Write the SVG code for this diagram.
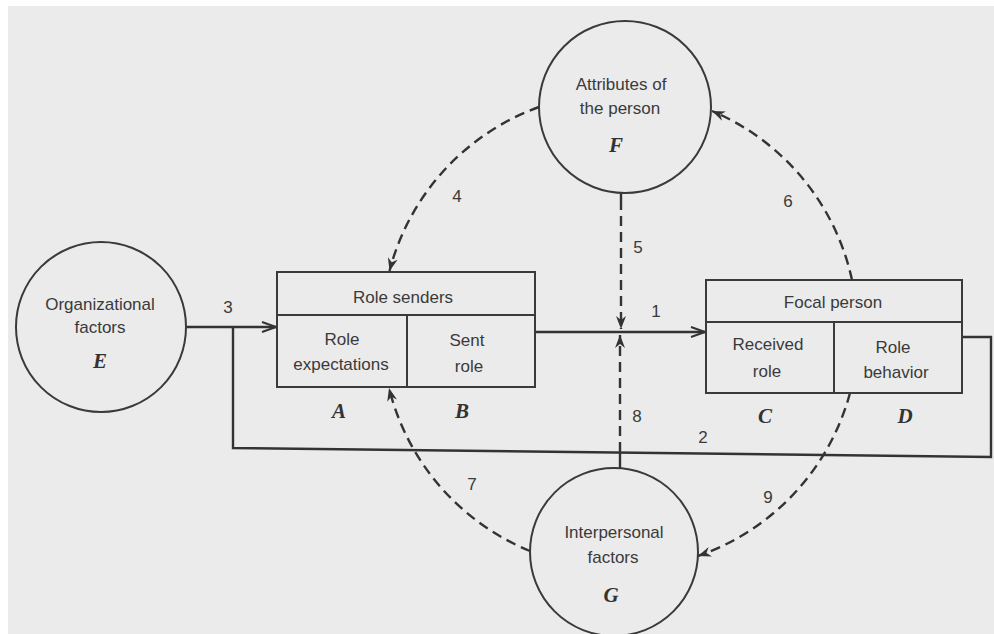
<svg xmlns="http://www.w3.org/2000/svg" width="994" height="634" viewBox="0 0 994 634">
  <style>
    .ln { fill: none; stroke: #3a3a3a; stroke-width: 2; }
    .flow { fill: none; stroke: #333; stroke-width: 2.4; }
    .dash { fill: none; stroke: #333; stroke-width: 2.4; stroke-dasharray: 10 6; }
    .t { font-family: "Liberation Sans", Arial, sans-serif; font-size: 17px; fill: #3a3a3a; text-anchor: middle; }
    .num { font-family: "Liberation Sans", Arial, sans-serif; font-size: 17px; fill: #3a3a3a; text-anchor: middle; }
    .let { font-family: "Liberation Serif", "Times New Roman", serif; font-size: 21px; font-weight: bold; font-style: italic; fill: #333; text-anchor: middle; }
  </style>
  <defs>
    <marker id="open" viewBox="0 0 16 12" refX="15" refY="6" markerWidth="16" markerHeight="12" markerUnits="userSpaceOnUse" orient="auto">
      <path d="M1,1 L15,6 L1,11" fill="none" stroke="#333" stroke-width="2"/>
    </marker>
    <marker id="barb" viewBox="0 0 14 12" refX="13" refY="6" markerWidth="14" markerHeight="12" markerUnits="userSpaceOnUse" orient="auto">
      <path d="M0,1 L13,6 L0,11 L4,6 z" fill="#333"/>
    </marker>
  </defs>

  <!-- page -->
  <rect x="0" y="0" width="994" height="634" fill="#ffffff"/>
  <rect x="8" y="6" width="986" height="628" fill="#ebebeb"/>

  <!-- connectors -->
  <g id="connectors">
    <!-- 3: organizational factors to role senders -->
    <line class="flow" x1="186" y1="327" x2="276" y2="327" marker-end="url(#open)"/>
    <!-- 1: sent role to received role -->
    <line class="flow" x1="535" y1="332" x2="705" y2="332" marker-end="url(#open)"/>
    <!-- 2: feedback loop from role behavior back to role senders -->
    <polyline class="flow" points="962,337 991,337 991,457 233,448 233,327"/>
    <!-- 5: attributes of the person onto the sent role -->
    <line class="flow" x1="621" y1="192" x2="621" y2="200"/>
    <line class="dash" x1="621" y1="200" x2="621" y2="329" marker-end="url(#barb)"/>
    <!-- 8: interpersonal factors onto the sent role -->
    <line class="flow" x1="620" y1="468" x2="620" y2="452"/>
    <line class="dash" x1="620" y1="452" x2="620" y2="335" marker-end="url(#barb)"/>
    <!-- 4, 6, 7, 9: arcs of one wide circle -->
    <path class="dash" d="M539,107 A238,238 0 0 0 389.5,271" marker-end="url(#barb)"/>
    <path class="dash" d="M852,280 A238,238 0 0 0 712,111" marker-end="url(#barb)"/>
    <path class="dash" d="M530,551 A238,238 0 0 1 389,388" marker-end="url(#barb)"/>
    <path class="dash" d="M850,393 A238,238 0 0 1 698,556" marker-end="url(#barb)"/>

    <text class="num" x="228" y="313">3</text>
    <text class="num" x="656" y="317">1</text>
    <text class="num" x="703" y="443">2</text>
    <text class="num" x="457" y="202">4</text>
    <text class="num" x="638" y="253">5</text>
    <text class="num" x="788" y="207">6</text>
    <text class="num" x="472" y="490">7</text>
    <text class="num" x="637" y="422">8</text>
    <text class="num" x="768" y="503">9</text>
  </g>

  <!-- E -->
  <g id="organizational-factors">
    <circle class="ln" cx="101" cy="327" r="85"/>
    <text class="t" x="100" y="310">Organizational</text>
    <text class="t" x="100" y="333">factors</text>
    <text class="let" x="100" y="368">E</text>
  </g>

  <!-- F -->
  <g id="attributes-of-person">
    <circle class="ln" cx="625" cy="107" r="86"/>
    <text class="t" x="621" y="90">Attributes of</text>
    <text class="t" x="620" y="114">the person</text>
    <text class="let" x="616" y="152">F</text>
  </g>

  <!-- G -->
  <g id="interpersonal-factors">
    <circle class="ln" cx="614" cy="552" r="84"/>
    <text class="t" x="614" y="538">Interpersonal</text>
    <text class="t" x="613" y="563">factors</text>
    <text class="let" x="611" y="602">G</text>
  </g>

  <!-- A, B -->
  <g id="role-senders">
    <rect class="ln" x="277" y="272" width="258" height="115"/>
    <line class="ln" x1="277" y1="315" x2="535" y2="315"/>
    <line class="ln" x1="407" y1="315" x2="407" y2="387"/>
    <text class="t" x="403" y="303">Role senders</text>
    <text class="t" x="342" y="345">Role</text>
    <text class="t" x="341" y="370">expectations</text>
    <text class="t" x="467" y="346">Sent</text>
    <text class="t" x="469" y="372">role</text>
    <text class="let" x="339" y="418">A</text>
    <text class="let" x="462" y="418">B</text>
  </g>

  <!-- C, D -->
  <g id="focal-person">
    <rect class="ln" x="706" y="280" width="256" height="113"/>
    <line class="ln" x1="706" y1="322" x2="962" y2="322"/>
    <line class="ln" x1="834" y1="322" x2="834" y2="393"/>
    <text class="t" x="833" y="308">Focal person</text>
    <text class="t" x="768" y="350">Received</text>
    <text class="t" x="767" y="377">role</text>
    <text class="t" x="893" y="353">Role</text>
    <text class="t" x="896" y="378">behavior</text>
    <text class="let" x="765" y="423">C</text>
    <text class="let" x="905" y="423">D</text>
  </g>
</svg>
